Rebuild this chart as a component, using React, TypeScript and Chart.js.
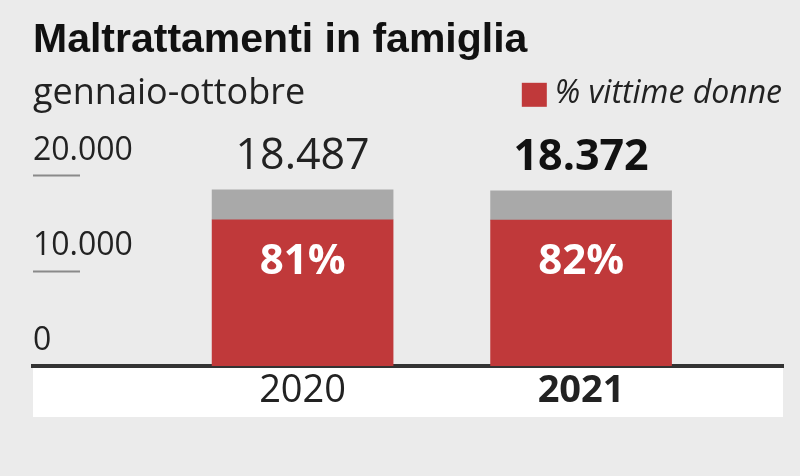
import React, { useEffect, useRef } from "react";
import { Chart, registerables } from "chart.js";

Chart.register(...registerables);

// ---- data ----
const years = [2020, 2021];
const yearLabels = ["2020", "2021"];
const boldYear = 2021;
const womenValues = [15350, 15300];
const otherValues = [3137, 3072];
const totalLabels = ["18.487", "18.372"];
const pctLabels = ["81%", "82%"];
const yTickValues = [0, 10000, 20000];
const yTickLabels = ["0", "10.000", "20.000"];
const titleText = "Maltrattamenti in famiglia";
const subtitleText = "gennaio-ottobre";
const legendText = "% vittime donne";

const RED = "#c0393a";
const GREY = "#a9a9a9";
const BG = "#ebebeb";
const SANS = "'Open Sans', 'DejaVu Sans', sans-serif";

const bgPlugin = {
  id: "bgPlugin",
  beforeDraw(chart: any) {
    const { ctx, chartArea, scales } = chart;
    ctx.save();
    ctx.fillStyle = BG;
    ctx.fillRect(0, 0, chart.width, chart.height);
    ctx.fillStyle = "#ffffff";
    ctx.fillRect(
      chartArea.left,
      chartArea.bottom,
      chartArea.right - chartArea.left,
      scales.x.bottom - chartArea.bottom
    );
    ctx.restore();
  },
};

const annotPlugin = {
  id: "annotPlugin",
  afterDraw(chart: any) {
    const { ctx, chartArea, scales } = chart;
    ctx.save();
    // short underlines under y tick labels
    ctx.strokeStyle = "#8a8a8a";
    ctx.lineWidth = 2;
    yTickValues.forEach((v) => {
      if (v === 0) return;
      const y = Math.round(scales.y.getPixelForValue(v)) + 0.5;
      ctx.beginPath();
      ctx.moveTo(chartArea.left, y);
      ctx.lineTo(chartArea.left + 47, y);
      ctx.stroke();
    });
    // totals above bars
    const topMeta = chart.getDatasetMeta(1);
    const redMeta = chart.getDatasetMeta(0);
    ctx.textAlign = "center";
    ctx.textBaseline = "alphabetic";
    topMeta.data.forEach((el: any, i: number) => {
      const bold = years[i] === boldYear;
      ctx.font = `${bold ? "bold " : ""}43px ${SANS}`;
      ctx.fillStyle = bold ? "#111" : "#222";
      ctx.fillText(totalLabels[i], el.x, el.y - 21);
    });
    redMeta.data.forEach((el: any, i: number) => {
      ctx.font = `bold 42px ${SANS}`;
      ctx.fillStyle = "#ffffff";
      ctx.fillText(pctLabels[i], el.x, el.y + 54);
    });
    // legend on the subtitle line
    const sub = chart.boxes.find(
      (b: any) => b.options && b.options.text === subtitleText
    );
    const midY = sub ? sub.top + 7 + 21.6 : 92;
    ctx.font = `italic 32px ${SANS}`;
    ctx.textAlign = "right";
    ctx.textBaseline = "middle";
    ctx.fillStyle = "#222";
    const right = chartArea.right - 1;
    ctx.fillText(legendText, right, midY);
    const w = ctx.measureText(legendText).width;
    ctx.fillStyle = RED;
    ctx.fillRect(right - w - 8 - 25, midY - 11, 25, 24);
    ctx.restore();
  },
};

export default function App() {
  const ref = useRef<HTMLCanvasElement | null>(null);
  useEffect(() => {
    document.body.style.margin = "0";
    const canvas = ref.current;
    if (!canvas) return;
    const chart = new Chart(canvas, {
      type: "bar",
      data: {
        datasets: [
          {
            label: legendText,
            data: years.map((x, i) => ({ x, y: womenValues[i] })),
            backgroundColor: RED,
            borderWidth: 0,
            barThickness: 181,
          },
          {
            label: "altri",
            data: years.map((x, i) => ({ x, y: otherValues[i] })),
            backgroundColor: GREY,
            borderWidth: 0,
            barThickness: 181,
          },
        ],
      },
      options: {
        responsive: false,
        animation: false,
        layout: { padding: { left: 33, right: 17, top: 0, bottom: 59 } },
        plugins: {
          legend: { display: false },
          tooltip: { enabled: false },
          title: {
            display: true,
            text: titleText,
            align: "start",
            color: "#111",
            font: { family: "'Liberation Sans', Arial, sans-serif", size: 41, weight: "bold", lineHeight: 1.2 },
            padding: { top: 16, bottom: 0 },
          },
          subtitle: {
            display: true,
            text: subtitleText,
            align: "start",
            color: "#222",
            font: { family: SANS, size: 36, weight: "normal", lineHeight: 1.2 },
            padding: { top: 7, bottom: 60 },
          },
        },
        scales: {
          x: {
            type: "linear",
            stacked: true,
            offset: false,
            min: 2019.032,
            max: 2021.725,
            afterBuildTicks: (scale: any) => {
              scale.ticks = years.map((v) => ({ value: v }));
            },
            afterFit: (scale: any) => {
              scale.height = 51;
            },
            grid: { display: false, drawTicks: false },
            border: { display: true, color: "#333", width: 4 },
            ticks: {
              padding: 2,
              color: "#222",
              autoSkip: false,
              maxRotation: 0,
              callback: (v: any) => {
                const i = years.indexOf(Number(v));
                return i >= 0 ? yearLabels[i] : "";
              },
              font: (ctx: any) => ({
                family: SANS,
                size: 38,
                weight: ctx.tick && ctx.tick.value === boldYear ? "bold" : "normal",
              }),
            },
          },
          y: {
            stacked: true,
            min: 0,
            max: 20000,
            afterBuildTicks: (scale: any) => {
              scale.ticks = yTickValues.map((v) => ({ value: v }));
            },
            afterFit: (scale: any) => {
              scale.width = 0;
            },
            grid: { display: false, drawTicks: false },
            border: { display: false },
            ticks: {
              mirror: true,
              padding: 0,
              labelOffset: -25,
              color: "#222",
              font: { family: SANS, size: 32 },
              callback: (v: any) => {
                const i = yTickValues.indexOf(Number(v));
                return i >= 0 ? yTickLabels[i] : "";
              },
            },
          },
        },
      },
      plugins: [bgPlugin, annotPlugin],
    } as any);
    return () => chart.destroy();
  }, []);
  return (
    <div style={{ position: "absolute", left: 0, top: 0, width: 800, height: 476 }}>
      <canvas ref={ref} width={800} height={476} />
    </div>
  );
}
